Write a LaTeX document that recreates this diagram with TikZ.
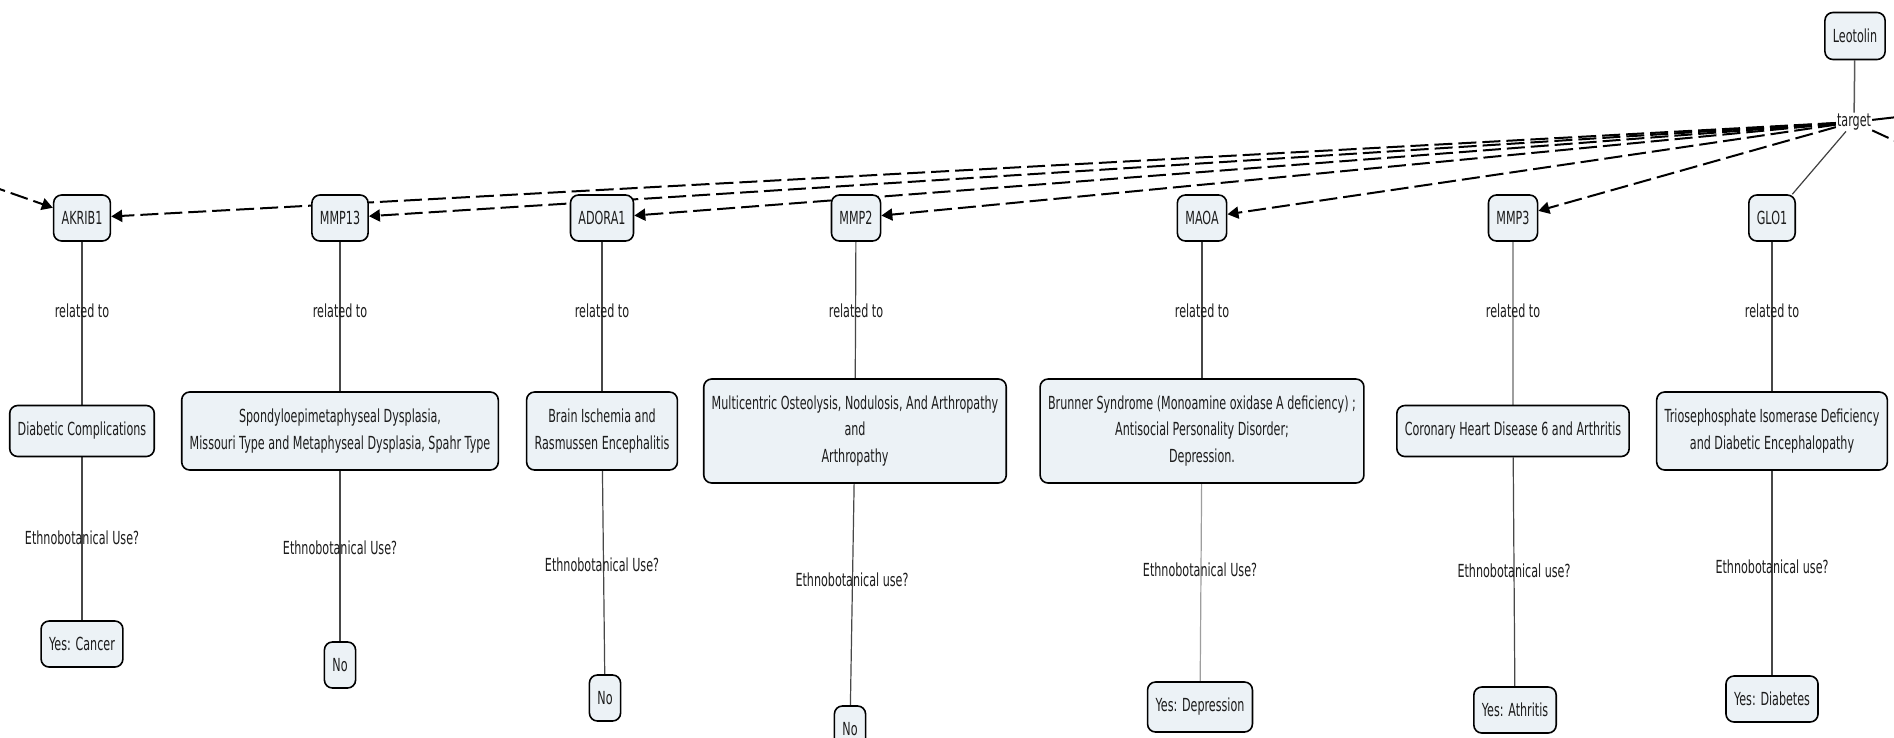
\documentclass[tikz,border=0pt]{standalone}
\usepackage{fontspec}
\setmainfont{DejaVu Sans}[FakeStretch=0.62]
\usetikzlibrary{arrows.meta,backgrounds}

\definecolor{boxfill}{RGB}{236,242,246}
\definecolor{ink}{RGB}{28,28,28}

\begin{document}
\begin{tikzpicture}[x=1pt,y=-1pt,
  every node/.style={font=\fontsize{18}{26.5}\selectfont, text=ink},
  concept/.style={draw=black, line width=1.6pt, fill=boxfill, rounded corners=8pt,
    align=center, inner xsep=8pt, inner ysep=0pt, minimum height=46pt},
  onebox/.style={concept, minimum height=51pt},
  twobox/.style={concept, minimum height=78pt},
  threebox/.style={concept, minimum height=104pt},
  phrase/.style={inner sep=1pt},
  link/.style={draw=black!72, line width=1.2pt},
  paleline/.style={draw=black!38, line width=1.2pt},
  dashlink/.style={draw=black, line width=2pt, dash pattern=on 18pt off 6pt},
  dasharrow/.style={dashlink, -{Triangle[length=11pt,width=12pt]}},
]
\useasboundingbox (0,0) rectangle (1894,737);

% root concept and its linking phrase
\node[concept, minimum height=47pt] (leo) at (1855,36) {Leotolin};
\node[phrase] (tgt) at (1854,122) {target};

% genes
\node[concept] (akr)   at (82,218)   {AKRIB1};
\node[concept] (mmp13) at (340,218)  {MMP13};
\node[concept] (ado)   at (602,218)  {ADORA1};
\node[concept] (mmp2)  at (856,218)  {MMP2};
\node[concept] (maoa)  at (1202,218) {MAOA};
\node[concept] (mmp3)  at (1513,218) {MMP3};
\node[concept] (glo)   at (1772,218) {GLO1};

% "related to" phrases
\node[phrase] (rakr)   at (82,311)   {related to};
\node[phrase] (rmmp13) at (340,311)  {related to};
\node[phrase] (rado)   at (602,311)  {related to};
\node[phrase] (rmmp2)  at (856,311)  {related to};
\node[phrase] (rmaoa)  at (1202,311) {related to};
\node[phrase] (rmmp3)  at (1513,311) {related to};
\node[phrase] (rglo)   at (1772,311) {related to};

% diseases
\node[onebox]   (dakr)   at (82,431)   {Diabetic Complications};
\node[twobox]   (dmmp13) at (340,431)  {Spondyloepimetaphyseal Dysplasia,\\Missouri Type and Metaphyseal Dysplasia, Spahr Type};
\node[twobox]   (dado)   at (602,431)  {Brain Ischemia and\\Rasmussen Encephalitis};
\node[threebox] (dmmp2)  at (855,431)  {Multicentric Osteolysis, Nodulosis, And Arthropathy\\and\\Arthropathy};
\node[threebox] (dmaoa)  at (1202,431) {Brunner Syndrome (Monoamine oxidase A deficiency) ;\\Antisocial Personality Disorder;\\Depression.};
\node[onebox]   (dmmp3)  at (1513,431) {Coronary Heart Disease 6 and Arthritis};
\node[twobox]   (dglo)   at (1772,431) {Triosephosphate Isomerase Deficiency\\and Diabetic Encephalopathy};

% ethnobotanical question phrases
\node[phrase] (eakr)   at (82,538)   {Ethnobotanical Use?};
\node[phrase] (emmp13) at (340,548)  {Ethnobotanical Use?};
\node[phrase] (eado)   at (602,565)  {Ethnobotanical Use?};
\node[phrase] (emmp2)  at (852,580)  {Ethnobotanical use?};
\node[phrase] (emaoa)  at (1200,570) {Ethnobotanical Use?};
\node[phrase] (emmp3)  at (1514,571) {Ethnobotanical use?};
\node[phrase] (eglo)   at (1772,567) {Ethnobotanical use?};

% answers
\node[concept]                     (aakr)   at (82,644)   {Yes: Cancer};
\node[concept]                     (ammp13) at (340,665)  {No};
\node[concept]                     (aado)   at (605,698)  {No};
\node[concept]                     (ammp2)  at (850,729)  {No};
\node[concept, minimum height=50pt] (amaoa) at (1200,707) {Yes: Depression};
\node[concept]                     (ammp3)  at (1515,710) {Yes: Athritis};
\node[concept]                     (aglo)   at (1772,699) {Yes: Diabetes};

% free ends of links that leave the frame
\coordinate (offL)  at (-12,185);
\coordinate (offR1) at (1906,116);
\coordinate (offR2) at (1906,146);

\begin{scope}[on background layer]
  \fill[white] (0,0) rectangle (1894,737);

  % root to its phrase, and the phrase to every gene
  \draw[draw=black!65, line width=1.5pt] (leo) -- (tgt);
  \draw[dasharrow] (tgt) -- (akr);
  \draw[dasharrow] (tgt) -- (mmp13);
  \draw[dasharrow] (tgt) -- (ado);
  \draw[dasharrow] (tgt) -- (mmp2);
  \draw[dasharrow] (tgt) -- (maoa);
  \draw[dasharrow] (tgt) -- (mmp3);
  \draw[draw=black!75, line width=1.2pt] (tgt) -- (glo);
  \draw[draw=black, line width=2pt] (tgt) -- (offR1);
  \draw[dashlink] (tgt) -- (offR2);
  \draw[dasharrow] (offL) -- (akr);

  % gene -> disease
  \draw[link] (akr) -- (dakr);
  \draw[link] (mmp13) -- (dmmp13);
  \draw[link] (ado) -- (dado);
  \draw[link] (mmp2) -- (dmmp2);
  \draw[link] (maoa) -- (dmaoa);
  \draw[paleline] (mmp3) -- (dmmp3);
  \draw[link] (glo) -- (dglo);

  % disease -> answer
  \draw[link] (dakr) -- (aakr);
  \draw[link] (dmmp13) -- (ammp13);
  \draw[link] (dado) -- (aado);
  \draw[link] (dmmp2) -- (ammp2);
  \draw[paleline] (dmaoa) -- (amaoa);
  \draw[link] (dmmp3) -- (ammp3);
  \draw[link] (dglo) -- (aglo);
\end{scope}
\end{tikzpicture}
\end{document}
